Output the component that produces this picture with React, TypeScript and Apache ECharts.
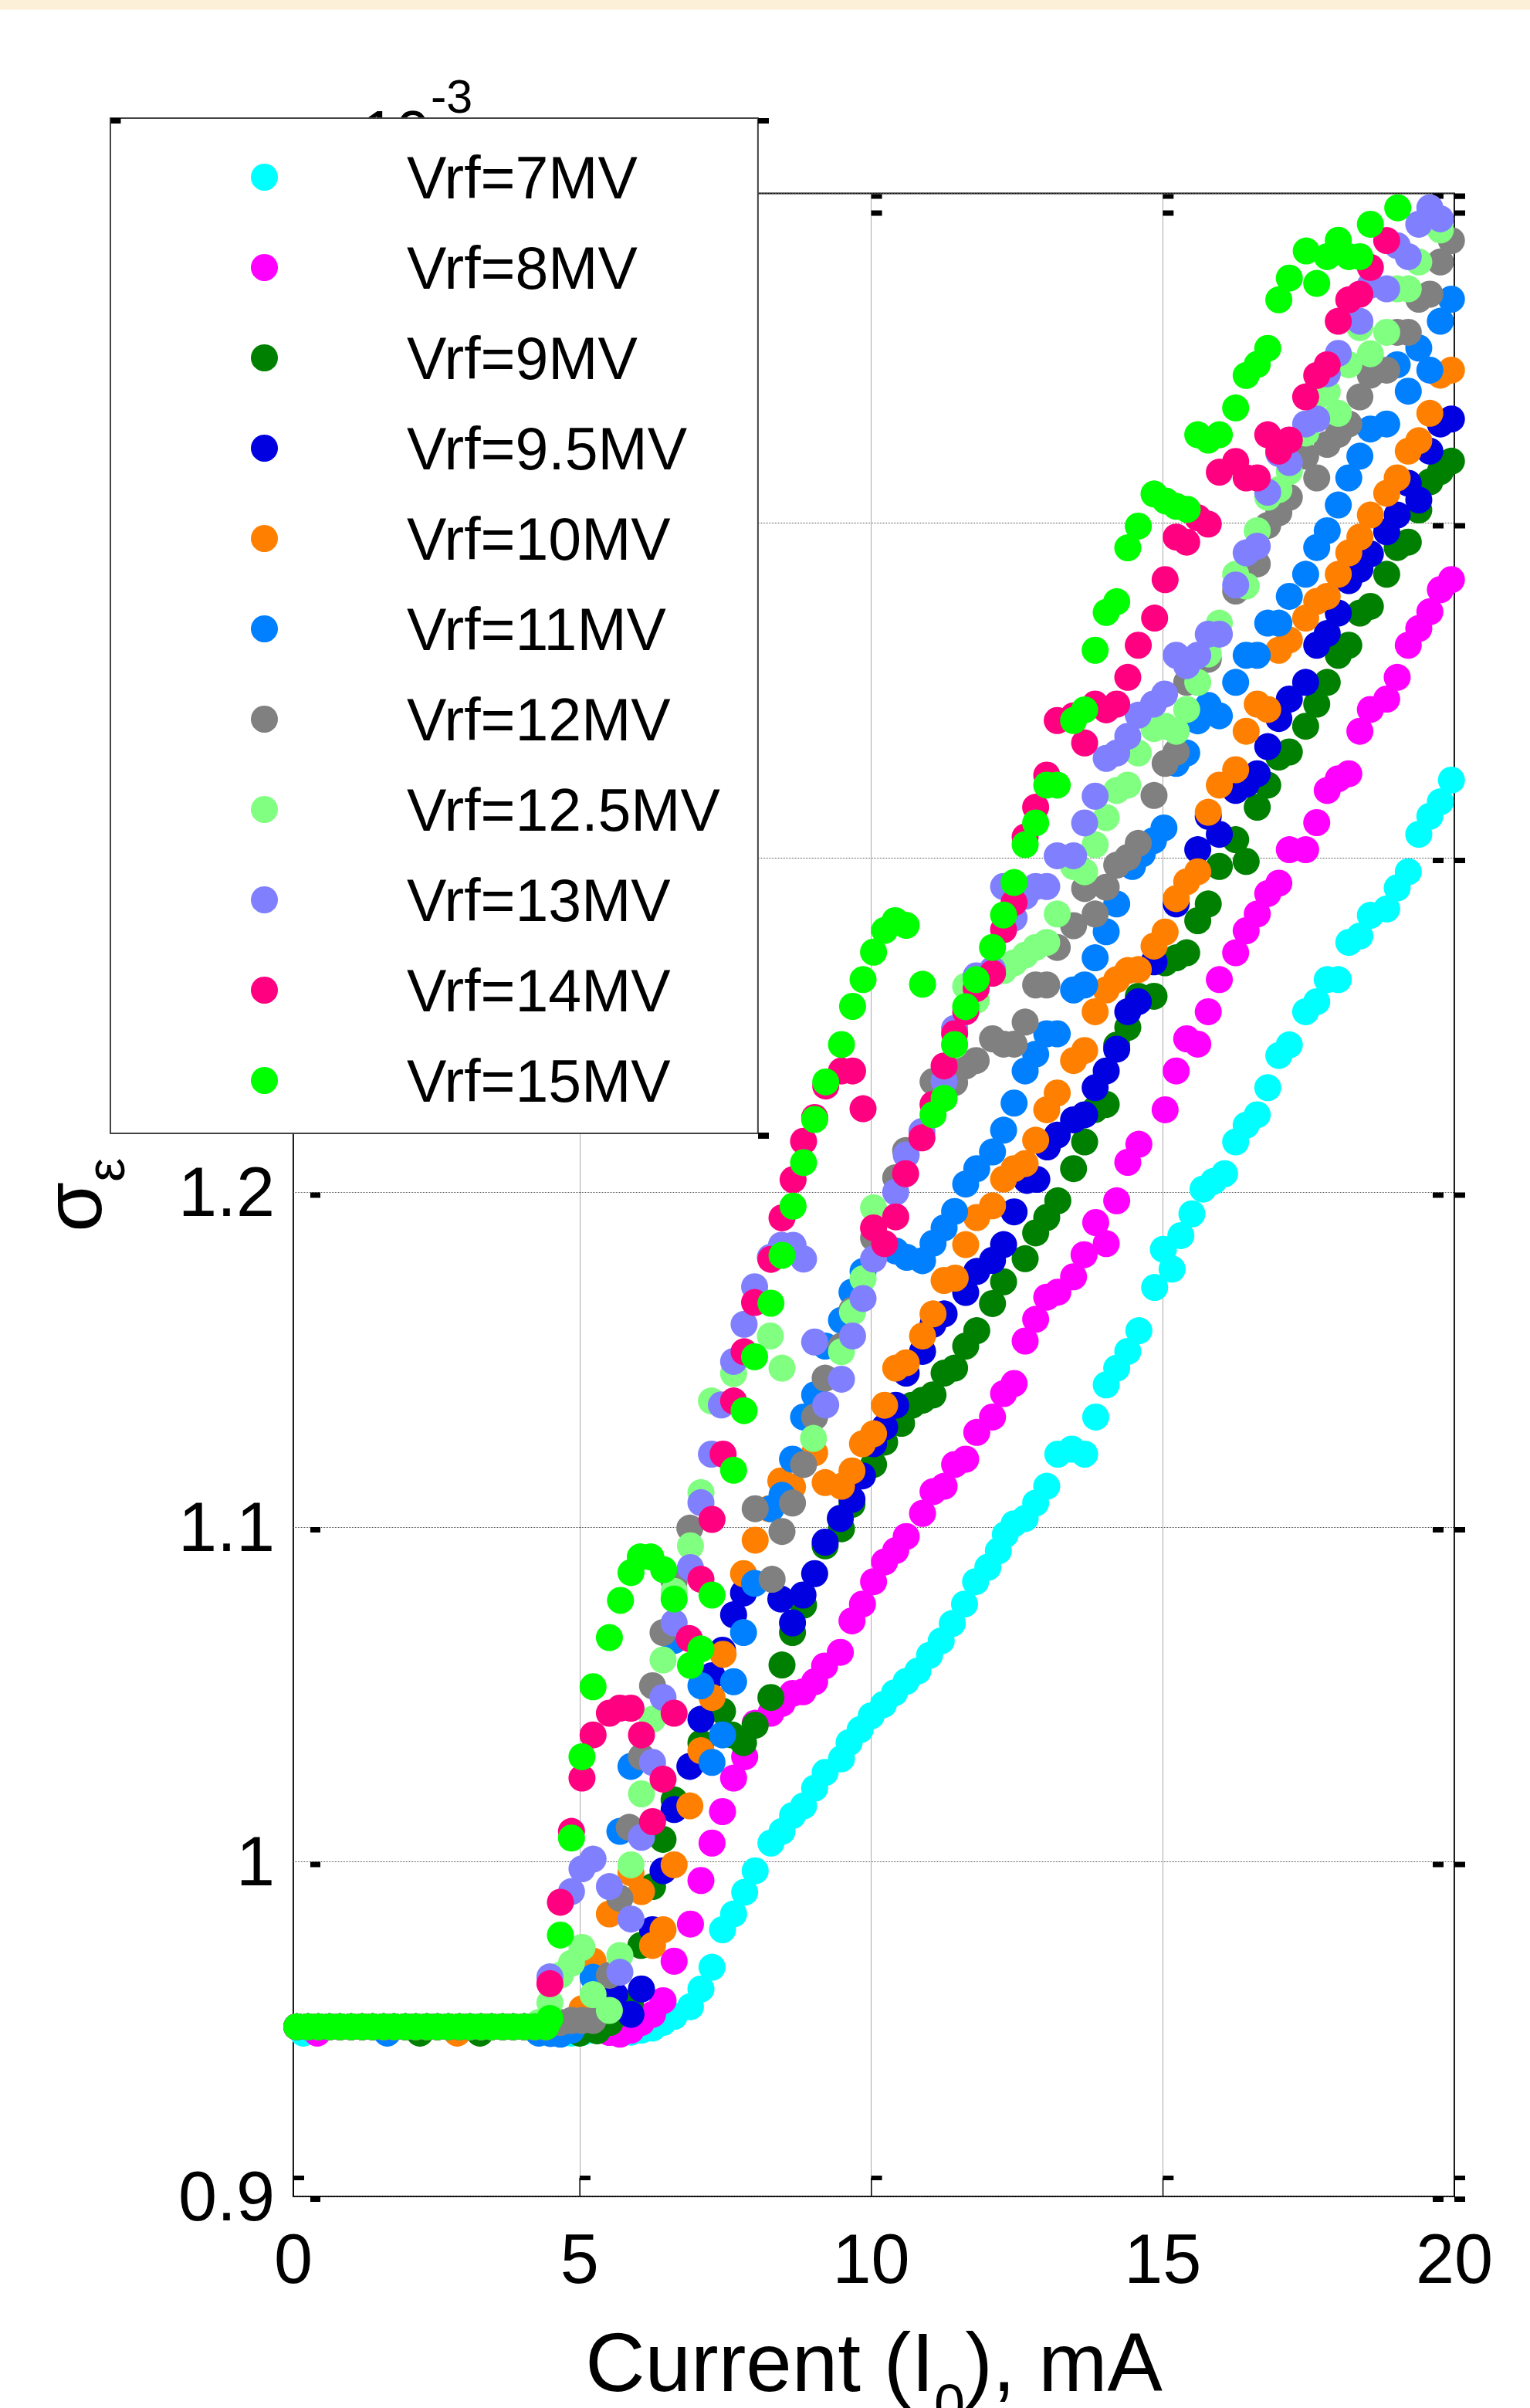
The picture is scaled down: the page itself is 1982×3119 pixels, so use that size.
import React, { useEffect, useRef } from "react";
import * as echarts from "echarts";

const FONT = '"Liberation Sans", Arial, sans-serif';
const xMin = 0.09, xMax = 20, yMin = 0.9, yMax = 1.4985;
const xTickValues = [xMin, 5, 10, 15, 20];
const yTickValues = [0.9, 1, 1.1, 1.2, 1.3, 1.4, yMax];
const flatCurrent = [0.15,0.34,0.52,0.71,0.89,1.08,1.27,1.45,1.64,1.82,2.01,2.19,2.38,2.56,2.75,2.94,3.12,3.31,3.49,3.68,3.86,4.05,4.23,4.42];
const flatSigma = 0.9507;

const vrf7 = [[0.26,0.9488],[4.86,0.9488],[5.04,0.9490],[5.23,0.9497],[5.51,0.9491],[5.69,0.9491],[5.88,0.9491],[6.06,0.9497],[6.25,0.9503],[6.43,0.9520],[6.62,0.9538],[6.90,0.9567],[7.08,0.9620],[7.27,0.9685],[7.45,0.9797],[7.64,0.9844],[7.83,0.9909],[8.01,0.9973],[8.28,1.0056],[8.47,1.0091],[8.65,1.0138],[8.84,1.0167],[9.03,1.0220],[9.21,1.0267],[9.49,1.0308],[9.62,1.0356],[9.81,1.0395],[10.0,1.0436],[10.21,1.0470],[10.4,1.0505],[10.6,1.0539],[10.8,1.0570],[11.0,1.0617],[11.2,1.0660],[11.39,1.0712],[11.6,1.0770],[11.79,1.0837],[12.0,1.0880],[12.18,1.0929],[12.30,1.0978],[12.45,1.1010],[12.64,1.1026],[12.82,1.1072],[13.01,1.1122],[13.20,1.1218],[13.44,1.1233],[13.66,1.1218],[13.85,1.1329],[14.03,1.1425],[14.21,1.1475],[14.40,1.1525],[14.59,1.1587],[14.86,1.1716],[15.01,1.1830],[15.16,1.1771],[15.31,1.1871],[15.50,1.1936],[15.69,1.2010],[15.87,1.2033],[16.06,1.2056],[16.25,1.2151],[16.43,1.2201],[16.62,1.2232],[16.80,1.2313],[16.99,1.2409],[17.17,1.2441],[17.45,1.2540],[17.64,1.2570],[17.82,1.2636],[18.01,1.2636],[18.19,1.2747],[18.38,1.2766],[18.56,1.2828],[18.84,1.2847],[19.02,1.2910],[19.21,1.2958],[19.39,1.3070],[19.58,1.3124],[19.76,1.3167],[19.95,1.3232]];
const vrf8 = [[0.50,0.9488],[5.51,0.9490],[5.69,0.9485],[5.88,0.9497],[6.06,0.9520],[6.25,0.9544],[6.43,0.9585],[6.62,0.9703],[6.90,0.9814],[7.08,0.9944],[7.27,1.0056],[7.45,1.0150],[7.64,1.0250],[7.83,1.0314],[8.01,1.0414],[8.28,1.0444],[8.47,1.0473],[8.65,1.0503],[8.83,1.0508],[9.03,1.0538],[9.20,1.0585],[9.47,1.0626],[9.67,1.0720],[9.85,1.0770],[10.04,1.0837],[10.23,1.0896],[10.42,1.0930],[10.60,1.0972],[10.88,1.1041],[11.06,1.1106],[11.25,1.1122],[11.43,1.1187],[11.62,1.1203],[11.81,1.1283],[12.08,1.1329],[12.27,1.1399],[12.45,1.1429],[12.64,1.1556],[12.82,1.1621],[13.01,1.1687],[13.20,1.1702],[13.47,1.1748],[13.65,1.1814],[13.85,1.1910],[14.03,1.1847],[14.21,1.1975],[14.40,1.2090],[14.59,1.2144],[15.04,1.2247],[15.23,1.2363],[15.41,1.2459],[15.60,1.2443],[15.78,1.2540],[15.97,1.2636],[16.25,1.2716],[16.43,1.2782],[16.62,1.2832],[16.80,1.2893],[16.99,1.2924],[17.17,1.3024],[17.45,1.3024],[17.64,1.3105],[17.82,1.3201],[18.01,1.3236],[18.19,1.3251],[18.38,1.3378],[18.56,1.3443],[18.84,1.3474],[19.02,1.3539],[19.21,1.3635],[19.39,1.3685],[19.58,1.3735],[19.76,1.3801],[19.95,1.3831]];
const vrf9 = [[2.26,0.9488],[3.29,0.9488],[5.0,0.9488],[5.30,0.9495],[5.52,0.9520],[5.87,0.9579],[6.05,0.9750],[6.25,0.9926],[6.43,1.0067],[6.62,1.0185],[7.08,1.0355],[7.45,1.0450],[7.61,1.0379],[7.81,1.0356],[8.01,1.0408],[8.28,1.0491],[8.47,1.0588],[8.65,1.0685],[8.84,1.0767],[9.21,1.0944],[9.49,1.0995],[9.67,1.1068],[10.04,1.1187],[10.23,1.1254],[10.52,1.1310],[10.70,1.1364],[10.88,1.1379],[11.06,1.1395],[11.25,1.1460],[11.43,1.1475],[11.62,1.1541],[11.81,1.1587],[12.08,1.1668],[12.27,1.1733],[12.64,1.1802],[12.82,1.1879],[13.01,1.1925],[13.20,1.1975],[13.47,1.2071],[13.66,1.2151],[13.84,1.2248],[14.03,1.2263],[14.21,1.2440],[14.40,1.2493],[14.58,1.2586],[14.85,1.2586],[15.04,1.2686],[15.23,1.2701],[15.41,1.2716],[15.60,1.2812],[15.78,1.2862],[15.97,1.2974],[16.25,1.3054],[16.43,1.2989],[16.62,1.3151],[16.80,1.3217],[16.99,1.3301],[17.17,1.3316],[17.45,1.3393],[17.64,1.3459],[17.82,1.3524],[18.01,1.3605],[18.19,1.3635],[18.38,1.3731],[18.56,1.3751],[18.84,1.3847],[19.02,1.3927],[19.21,1.3943],[19.39,1.4039],[19.58,1.4123],[19.76,1.4154],[19.95,1.4185]];
const vrf95 = [[5.60,0.9603],[5.88,0.9544],[6.06,0.9620],[6.25,0.9797],[6.43,0.9973],[6.62,1.0156],[6.89,1.0285],[7.08,1.0426],[7.27,1.0556],[7.45,1.0632],[7.64,1.0738],[7.81,1.0803],[8.45,1.0785],[8.65,1.0714],[8.83,1.0797],[9.03,1.0861],[9.21,1.0955],[9.47,1.1026],[9.67,1.1083],[9.85,1.1153],[10.04,1.1249],[10.23,1.1299],[10.42,1.1364],[10.60,1.1460],[10.88,1.1525],[11.06,1.1606],[11.25,1.1637],[11.62,1.1701],[11.81,1.1764],[12.08,1.1797],[12.27,1.1844],[12.45,1.1942],[12.67,1.2036],[12.84,1.2039],[13.02,1.2136],[13.19,1.2171],[13.47,1.2217],[13.66,1.2232],[13.84,1.2313],[14.03,1.2363],[14.21,1.2428],[14.40,1.2540],[14.58,1.2570],[14.85,1.2689],[15.23,1.2862],[15.60,1.3024],[15.78,1.3124],[15.97,1.3070],[16.25,1.3201],[16.43,1.3220],[16.62,1.3251],[16.80,1.3332],[16.99,1.3416],[17.17,1.3474],[17.45,1.3524],[17.64,1.3635],[17.82,1.3670],[18.01,1.3731],[18.19,1.3828],[18.38,1.3862],[18.56,1.3908],[18.84,1.3974],[19.02,1.4024],[19.21,1.4119],[19.39,1.4069],[19.58,1.4215],[19.76,1.4296],[19.95,1.4311]];
const vrf10 = [[2.90,0.9488],[5.04,0.9561],[5.23,0.9703],[5.51,0.9844],[5.88,0.9967],[6.06,0.9911],[6.25,0.9750],[6.43,0.9797],[6.62,0.9991],[6.89,1.0167],[7.08,1.0332],[7.27,1.0491],[7.46,1.0620],[7.81,1.0861],[8.01,1.0961],[8.25,1.1055],[8.45,1.1138],[8.65,1.1120],[9.03,1.1222],[9.21,1.1133],[9.49,1.1122],[9.67,1.1168],[9.85,1.1249],[10.04,1.1279],[10.23,1.1364],[10.42,1.1475],[10.60,1.1491],[10.88,1.1571],[11.06,1.1637],[11.25,1.1737],[11.44,1.1744],[11.62,1.1844],[11.81,1.1925],[12.08,1.1960],[12.27,1.2040],[12.45,1.2071],[12.64,1.2086],[12.82,1.2156],[13.01,1.2247],[13.19,1.2297],[13.47,1.2394],[13.66,1.2424],[13.84,1.2540],[14.03,1.2605],[14.21,1.2636],[14.40,1.2663],[14.58,1.2666],[14.85,1.2736],[15.04,1.2778],[15.23,1.2878],[15.41,1.2928],[15.60,1.2958],[15.78,1.3136],[15.97,1.3217],[16.25,1.3263],[16.43,1.3378],[16.62,1.3459],[16.80,1.3443],[16.99,1.3620],[17.17,1.3651],[17.45,1.3716],[17.64,1.3766],[17.82,1.3781],[18.01,1.3847],[18.19,1.3911],[18.38,1.3958],[18.56,1.4024],[18.84,1.4089],[19.02,1.4135],[19.21,1.4215],[19.39,1.4246],[19.58,1.4328],[19.76,1.4442],[19.95,1.4457]];
const vrf11 = [[1.70,0.9488],[4.30,0.9488],[4.50,0.9487],[4.67,0.9485],[4.86,0.9497],[5.23,0.9655],[5.69,1.0091],[5.88,1.0285],[6.62,1.0661],[7.08,1.0526],[7.27,1.0297],[7.45,1.0379],[7.64,1.0538],[7.81,1.0685],[8.0,1.0832],[8.28,1.1055],[8.47,1.1095],[8.65,1.1203],[8.84,1.1329],[9.03,1.1395],[9.21,1.1541],[9.49,1.1618],[9.67,1.1702],[9.86,1.1764],[10.42,1.1825],[10.61,1.1806],[10.88,1.1796],[11.06,1.1848],[11.25,1.1894],[11.43,1.1943],[11.62,1.2025],[11.81,1.2071],[12.08,1.2121],[12.27,1.2186],[12.45,1.2267],[12.64,1.2363],[12.82,1.2413],[13.01,1.2474],[13.19,1.2474],[13.47,1.2605],[13.66,1.2620],[13.84,1.2701],[14.03,1.2779],[14.21,1.2862],[14.48,1.2974],[14.65,1.3012],[14.84,1.3051],[15.02,1.3089],[15.23,1.3282],[15.41,1.3313],[15.60,1.3409],[15.78,1.3455],[15.97,1.3424],[16.25,1.3524],[16.43,1.3605],[16.62,1.3605],[16.80,1.3701],[16.99,1.3701],[17.17,1.3781],[17.45,1.3847],[17.64,1.3927],[17.82,1.3977],[18.01,1.4054],[18.19,1.4135],[18.38,1.4200],[18.56,1.4281],[18.84,1.4296],[19.02,1.4473],[19.21,1.4394],[19.39,1.4523],[19.58,1.4457],[19.76,1.4603],[19.95,1.4669]];
const vrf12 = [[4.67,0.9520],[4.86,0.9526],[5.04,0.9526],[5.23,0.9526],[5.51,0.9661],[5.69,0.9891],[5.85,1.0103],[6.06,1.0314],[6.25,1.0526],[6.43,1.0685],[6.62,1.0838],[6.89,1.0997],[8.01,1.1055],[8.30,1.0844],[8.47,1.0987],[8.65,1.1072],[8.84,1.1187],[9.03,1.1329],[9.21,1.1445],[9.49,1.1541],[9.67,1.1648],[10.04,1.1864],[10.42,1.2044],[10.59,1.2125],[11.06,1.2331],[11.43,1.2328],[11.62,1.2378],[11.80,1.2394],[12.08,1.2459],[12.27,1.2443],[12.45,1.2443],[12.64,1.2509],[12.82,1.2620],[13.01,1.2620],[13.19,1.2732],[13.47,1.2797],[13.66,1.2908],[13.84,1.2832],[14.03,1.2912],[14.21,1.2978],[14.40,1.3001],[14.58,1.3043],[14.85,1.3186],[15.04,1.3282],[15.23,1.3316],[15.41,1.3524],[15.78,1.3593],[16.25,1.3797],[16.62,1.3878],[16.80,1.3993],[16.99,1.4031],[17.17,1.4077],[17.45,1.4200],[17.64,1.4135],[17.82,1.4235],[18.01,1.4265],[18.19,1.4296],[18.38,1.4377],[18.56,1.4442],[18.84,1.4457],[19.02,1.4570],[19.21,1.4570],[19.39,1.4669],[19.58,1.4684],[19.76,1.4780],[19.95,1.4844]];
const vrf125 = [[4.30,0.9520],[4.49,0.9579],[4.67,0.9661],[4.86,0.9697],[5.04,0.9744],[5.23,0.9603],[5.51,0.9556],[5.69,0.9720],[5.88,0.9991],[6.06,1.0203],[6.25,1.0426],[6.43,1.0603],[6.62,1.0808],[6.90,1.0944],[7.08,1.1103],[7.26,1.1377],[7.64,1.1459],[8.27,1.1571],[8.47,1.1475],[9.01,1.1265],[9.49,1.1524],[9.68,1.1642],[9.86,1.1742],[10.04,1.1954],[11.43,1.2440],[11.62,1.2616],[11.80,1.2574],[12.27,1.2663],[12.45,1.2686],[12.64,1.2709],[12.82,1.2732],[13.01,1.2747],[13.19,1.2832],[13.47,1.2974],[13.66,1.2958],[13.84,1.3039],[14.03,1.3120],[14.21,1.3201],[14.40,1.3217],[14.58,1.3313],[14.85,1.3386],[15.04,1.3393],[15.23,1.3378],[15.41,1.3443],[15.60,1.3524],[15.78,1.3609],[15.97,1.3701],[16.25,1.3847],[16.43,1.3812],[16.62,1.3977],[16.80,1.4077],[16.99,1.4100],[17.17,1.4154],[17.45,1.4269],[17.64,1.4377],[17.82,1.4392],[18.01,1.4328],[18.19,1.4473],[18.38,1.4584],[18.56,1.4506],[18.84,1.4570],[19.02,1.4700],[19.21,1.4700],[19.39,1.4780],[19.76,1.4876]];
const vrf13 = [[4.49,0.9656],[4.86,0.9911],[5.04,0.9979],[5.23,1.0008],[5.51,0.9926],[5.69,0.9670],[5.88,0.9829],[6.06,1.0073],[6.25,1.0297],[6.43,1.0491],[6.62,1.0714],[6.90,1.0879],[7.08,1.1073],[7.26,1.1218],[7.43,1.1365],[7.64,1.1495],[7.82,1.1606],[8.00,1.1718],[8.27,1.1806],[8.46,1.1842],[8.66,1.1842],[8.84,1.1801],[9.03,1.1553],[9.22,1.1365],[9.49,1.1442],[9.68,1.1571],[9.86,1.1683],[10.04,1.1801],[10.42,1.2001],[10.60,1.2112],[10.87,1.2182],[11.25,1.2332],[11.43,1.2490],[11.80,1.2647],[12.08,1.2666],[12.27,1.2914],[12.45,1.2820],[12.64,1.2885],[12.82,1.2914],[13.01,1.2914],[13.19,1.3006],[13.47,1.3006],[13.66,1.3104],[13.84,1.3184],[14.03,1.3297],[14.21,1.3313],[14.40,1.3363],[14.58,1.3426],[14.84,1.3459],[15.03,1.3489],[15.23,1.3605],[15.41,1.3574],[15.60,1.3605],[15.78,1.3668],[15.97,1.3668],[16.25,1.3815],[16.43,1.3911],[16.62,1.3931],[16.80,1.4092],[16.99,1.4208],[17.17,1.4181],[17.45,1.4296],[17.64,1.4311],[17.82,1.4446],[18.01,1.4507],[18.38,1.4603],[18.56,1.4711],[18.84,1.4700],[19.02,1.4829],[19.21,1.4796],[19.39,1.4893],[19.58,1.4942],[19.76,1.4909]];
const vrf14 = [[4.49,0.9636],[4.67,0.9879],[4.86,1.0091],[5.04,1.0250],[5.23,1.0379],[5.51,1.0444],[5.69,1.0459],[5.88,1.0459],[6.06,1.0379],[6.25,1.0120],[6.43,1.0247],[6.62,1.0444],[6.88,1.0667],[7.08,1.0844],[7.27,1.1023],[7.46,1.1218],[7.64,1.1377],[7.82,1.1524],[8.00,1.1671],[8.28,1.1800],[8.47,1.1924],[8.66,1.2038],[8.84,1.2153],[9.03,1.2224],[9.22,1.2318],[9.49,1.2363],[9.68,1.2363],[9.86,1.2250],[10.04,1.1894],[10.23,1.1847],[10.42,1.1927],[10.59,1.2056],[10.87,1.2163],[11.06,1.2263],[11.25,1.2378],[11.43,1.2474],[11.62,1.2540],[11.80,1.2609],[12.08,1.2655],[12.27,1.2785],[12.45,1.2866],[12.64,1.3062],[12.82,1.3151],[13.01,1.3247],[13.19,1.3410],[13.47,1.3424],[13.66,1.3343],[13.84,1.3459],[14.03,1.3442],[14.21,1.3459],[14.40,1.3539],[14.58,1.3635],[14.86,1.3716],[15.04,1.3831],[15.23,1.3958],[15.41,1.3943],[15.60,1.4016],[15.78,1.3997],[15.97,1.4152],[16.25,1.4184],[16.43,1.4135],[16.62,1.4135],[16.80,1.4264],[16.99,1.4215],[17.17,1.4248],[17.45,1.4377],[17.64,1.4441],[17.82,1.4473],[18.01,1.4603],[18.19,1.4667],[18.38,1.4684],[18.56,1.4764],[18.84,1.4844]];
const vrf15 = [[4.49,0.9532],[4.67,0.9781],[4.86,1.0071],[5.04,1.0314],[5.23,1.0523],[5.51,1.0670],[5.70,1.0781],[5.88,1.0864],[6.04,1.0911],[6.22,1.0911],[6.44,1.0873],[6.62,1.0785],[6.90,1.0587],[7.08,1.0636],[7.27,1.0797],[7.64,1.1170],[7.82,1.1348],[8.00,1.1509],[8.28,1.1669],[8.47,1.1812],[8.66,1.1959],[8.84,1.2089],[9.03,1.2218],[9.22,1.2330],[9.49,1.2442],[9.68,1.2556],[9.86,1.2636],[10.04,1.2718],[10.23,1.2783],[10.41,1.2812],[10.60,1.2798],[10.88,1.2622],[11.06,1.2232],[11.25,1.2281],[11.43,1.2442],[11.62,1.2555],[11.80,1.2636],[12.08,1.2732],[12.27,1.2829],[12.45,1.2926],[12.64,1.3039],[12.82,1.3104],[13.01,1.3217],[13.19,1.3217],[13.47,1.3410],[13.66,1.3442],[13.84,1.3620],[14.03,1.3733],[14.21,1.3765],[14.40,1.3926],[14.58,1.3991],[14.85,1.4087],[15.05,1.4066],[15.23,1.4050],[15.42,1.4041],[15.60,1.4264],[15.78,1.4248],[15.97,1.4264],[16.25,1.4344],[16.43,1.4441],[16.62,1.4474],[16.80,1.4522],[16.99,1.4667],[17.17,1.4732],[17.46,1.4813],[17.64,1.4716],[17.82,1.4796],[18.01,1.4845],[18.19,1.4796],[18.38,1.4796],[18.56,1.4893],[19.03,1.4942]];

const seriesNames = ["Vrf=7MV","Vrf=8MV","Vrf=9MV","Vrf=9.5MV","Vrf=10MV","Vrf=11MV","Vrf=12MV","Vrf=12.5MV","Vrf=13MV","Vrf=14MV","Vrf=15MV"];
const seriesColors = ["#00FFFF","#FF00FF","#008000","#0000E0","#FF8000","#0080FF","#808080","#80FF80","#8080FF","#FF0080","#00FF00"];
const seriesValues = [vrf7,vrf8,vrf9,vrf95,vrf10,vrf11,vrf12,vrf125,vrf13,vrf14,vrf15];

const block = (x: number, y: number, width: number, height: number) => ({
  type: "rect", shape: { x, y, width, height }, style: { fill: "#000" },
});

export default function App() {
  const ref = useRef<HTMLDivElement>(null);
  useEffect(() => {
    document.body.style.margin = "0";
    const chart = echarts.init(ref.current!, null, { renderer: "svg" });
    const scatter = seriesNames.map((name, i) => ({
      name,
      type: "scatter",
      symbol: "circle",
      symbolSize: 35,
      itemStyle: { color: seriesColors[i], opacity: 1 },
      z: 3 + i / 100,
      data: [...flatCurrent.map((x) => [x, flatSigma]), ...seriesValues[i]],
    }));
    chart.setOption({
      animation: false,
      backgroundColor: "#fff",
      textStyle: { fontFamily: FONT },
      grid: { left: 380, top: 250.5, width: 1504, height: 2594.5, outerBoundsMode: "none", show: true, borderColor: "#000", borderWidth: 2, backgroundColor: "transparent" },
      legend: {
        data: seriesNames,
        orient: "vertical",
        left: 143,
        top: 153,
        padding: [38, 49, 30, 182],
        itemWidth: 35,
        itemHeight: 35,
        itemGap: 40,
        icon: "circle",
        backgroundColor: "#fff",
        borderColor: "#444",
        borderWidth: 2,
        z: 10,
        selectedMode: false,
        textStyle: { fontFamily: FONT, fontSize: 77, color: "#000", padding: [0, 0, 0, 168 - 6], lineHeight: 77 },
      },
      xAxis: {
        type: "value", min: xMin, max: xMax,
        name: "{a|Current (I}{b|0}{a|), mA}",
        nameLocation: "middle",
        nameGap: 161,
        nameTextStyle: {
          rich: {
            a: { fontFamily: FONT, fontSize: 107, color: "#000", verticalAlign: "top", lineHeight: 120 },
            b: { fontFamily: FONT, fontSize: 72, color: "#000", verticalAlign: "bottom", lineHeight: 144 },
          },
        },
        axisLine: { show: false },
        axisTick: { show: false, customValues: xTickValues },
        splitLine: { show: true, lineStyle: { color: "#555", width: 1, type: "dotted" } },
        axisLabel: {
          customValues: xTickValues, margin: 36, fontFamily: FONT, fontSize: 90, color: "#000",
          formatter: (v: number) => String(Math.round(v)),
        },
      },
      yAxis: {
        type: "value", min: yMin, max: yMax,
        name: "{a|σ}{b|ε}",
        nameLocation: "middle",
        nameGap: 208,
        nameTextStyle: {
          rich: {
            a: { fontFamily: FONT, fontSize: 105, color: "#000", verticalAlign: "top", lineHeight: 100 },
            b: { fontFamily: FONT, fontSize: 70, color: "#000", verticalAlign: "bottom", lineHeight: 130 },
          },
        },
        axisLine: { show: false },
        axisTick: { show: false, customValues: yTickValues },
        splitLine: { show: true, lineStyle: { color: "#555", width: 1, type: "dotted" } },
        axisLabel: {
          customValues: yTickValues, margin: 24, fontFamily: FONT, fontSize: 90, color: "#000",
          formatter: (v: number) => String(Math.round(v * 10) / 10),
        },
      },
      graphic: [
        { type: "rect", z: 1, shape: { x: 0, y: 0, width: 1982, height: 12.5 }, style: { fill: "#FCF0D9" } },
        { type: "text", z: 1, x: 468, y: 131, style: { text: "10", fontFamily: FONT, fontSize: 80, fill: "#000" } },
        { type: "text", z: 1, x: 558, y: 94, style: { text: "-3", fontFamily: FONT, fontSize: 61, fill: "#000" } },
        { type: "rect", z: 20, shape: { x: 143.5, y: 153, width: 13, height: 7 }, style: { fill: "#000" } },
        { type: "rect", z: 20, shape: { x: 982, y: 153, width: 14, height: 7 }, style: { fill: "#000" } },
        { type: "rect", z: 20, shape: { x: 982, y: 1467, width: 14, height: 8 }, style: { fill: "#000" } },
      ],
      series: [
        ...scatter,
        {
          type: "custom", name: "xTickMarks", silent: true, clip: false, z: 2, tooltip: { show: false },
          data: xTickValues.map((v) => [v, yMin]),
          renderItem: (_: any, api: any) => {
            const x = api.value(0);
            const [cx, bottom] = api.coord([x, yMin]);
            const [, top] = api.coord([x, yMax]);
            return {
              type: "group",
              children: [
                block(cx, top + 1, 14, 6),
                block(cx, top + 22, 14, 7),
                block(cx, bottom - 27, 14, 6),
                block(cx - 0.5, bottom - 24, 1.5, 24),
              ],
            };
          },
        },
        {
          type: "custom", name: "yTickMarks", silent: true, clip: false, z: 2, tooltip: { show: false },
          data: yTickValues.map((v) => [xMin, v]),
          renderItem: (_: any, api: any) => {
            const y = api.value(1);
            const [left, cy] = api.coord([xMin, y]);
            const [right] = api.coord([xMax, y]);
            return {
              type: "group",
              children: [
                block(left + 22, cy, 13, 7),
                block(right - 28, cy, 14, 7),
                block(right, cy, 14, 7),
              ],
            };
          },
        },
      ],
    });
    return () => chart.dispose();
  }, []);
  return <div ref={ref} style={{ width: 1982, height: 3119, display: "block" }} />;
}
